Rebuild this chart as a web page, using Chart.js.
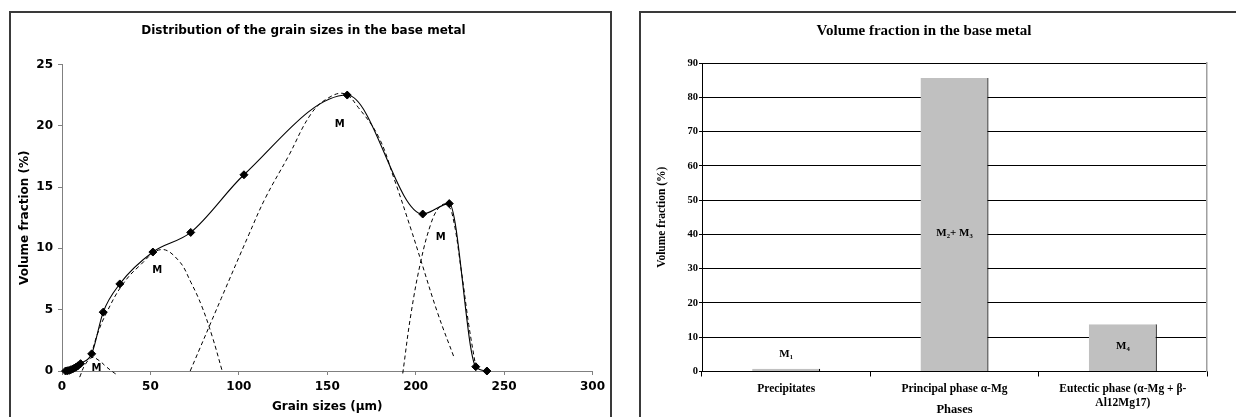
<!DOCTYPE html>
<html><head><meta charset="utf-8">
<script src="https://cdn.jsdelivr.net/npm/chart.js@4.4.1/dist/chart.umd.min.js"></script>
<style>
html,body{margin:0;padding:0;background:#fff;overflow:hidden;width:1236px;height:417px;}
.frame{position:absolute;border:2px solid #3a3a3a;}
#f1{left:9px;top:11px;width:599px;height:406px;}
#f2{left:639px;top:11px;width:644px;height:406px;}
canvas{display:block;}
</style></head><body>
<div class="frame" id="f1"><canvas id="c1" width="599" height="406"></canvas></div>
<div class="frame" id="f2"><canvas id="c2" width="644" height="406"></canvas></div>
<script>
// ---- Left chart data: measured grain size distribution ----
const grainSizes      = [2, 3, 4, 5, 6, 7, 8, 9, 10.5, 16.8, 23.3, 32.7, 51.4, 72.8, 102.9, 161.3, 204, 219, 234, 240.3];
const volumeFractions = [0, 0.02, 0.05, 0.1, 0.16, 0.24, 0.32, 0.42, 0.6, 1.4, 4.8, 7.1, 9.7, 11.3, 16.0, 22.5, 12.8, 13.65, 0.35, 0];
// Fitted components (dashed)
const m1Sizes = [10, 13, 17, 21, 25, 28.5, 31.5];
const m1Fractions = [-0.5, 0.5, 1.1, 0.85, 0.35, -0.05, -0.35];
const m2Sizes = [16.5, 20, 25, 34, 44, 56, 66, 73, 79, 85, 90.6];
const m2Fractions = [1.3, 3.0, 4.7, 7.0, 8.6, 9.9, 9.0, 7.2, 5.3, 2.8, 0];
const m3Sizes = [72.5, 90, 105.6, 115, 128, 141, 151, 160, 167.5, 179, 188, 197.5, 203, 212.5, 222];
const m3Fractions = [0, 5.9, 11.1, 14.1, 17.5, 21.0, 22.3, 22.6, 21.5, 19.1, 15.6, 11.5, 9.0, 4.7, 1.0];
const m4Sizes = [192.7, 197.4, 203, 208.6, 213, 217, 220.5, 226, 230, 234];
const m4Fractions = [-0.2, 4.7, 9.0, 12.0, 13.3, 13.6, 12.9, 8.0, 3.8, 0.35];
const peakLabels = ['M', 'M', 'M', 'M'];
const peakLabelX = [19.5, 53.8, 157.1, 214.2];
const peakLabelY = [0.2, 8.2, 20.1, 10.9];

// ---- Right chart data ----
const phases = ['Precipitates', 'Principal phase \u03b1-Mg', ['Eutectic phase (\u03b1-Mg + \u03b2-', 'Al12Mg17)']];
const phaseFractions = [0.8, 85.6, 13.8];
const barLabels = ['M\u2081', 'M\u2082+ M\u2083', 'M\u2084'];
const barLabelValues = [5, 40.4, 7.5];

const toXY = (xs, ys) => xs.map((x, i) => ({x: x, y: ys[i]}));
const SANS = '"DejaVu Sans", Verdana, sans-serif';
const SERIF = '"Liberation Serif", "Times New Roman", serif';

const peakLabelPlugin = {
  id: 'peakLabels',
  afterDatasetsDraw(chart) {
    const {ctx, scales: {x, y}} = chart;
    ctx.save();
    ctx.font = 'bold 10px ' + SANS;
    ctx.fillStyle = '#000';
    ctx.textAlign = 'center';
    ctx.textBaseline = 'middle';
    peakLabels.forEach((t, i) => ctx.fillText(t, x.getPixelForValue(peakLabelX[i]), y.getPixelForValue(peakLabelY[i])));
    ctx.restore();
  }
};

const dashed = (data) => ({
  data: data, borderColor: '#000', borderWidth: 1, borderDash: [4, 3],
  pointRadius: 0, tension: 0.4, fill: false, clip: false
});

new Chart(document.getElementById('c1'), {
  type: 'line',
  data: {
    datasets: [
      dashed(toXY(m1Sizes, m1Fractions)),
      dashed(toXY(m2Sizes, m2Fractions)),
      dashed(toXY(m3Sizes, m3Fractions)),
      dashed(toXY(m4Sizes, m4Fractions)),
      {
        data: toXY(grainSizes, volumeFractions),
        borderColor: '#000', borderWidth: 1.1, cubicInterpolationMode: 'monotone',
        pointStyle: 'rectRot', pointRadius: 4, pointBackgroundColor: '#000', pointBorderColor: '#000',
        pointBorderWidth: 1, fill: false, clip: false
      }
    ]
  },
  options: {
    responsive: false, animation: false, devicePixelRatio: 1,
    layout: {padding: {left: 0, right: 14, top: 0, bottom: 0}},
    plugins: {
      legend: {display: false}, tooltip: {enabled: false},
      title: {display: true, text: 'Distribution of the grain sizes in the base metal', color: '#000',
        font: {family: SANS, size: 12, weight: 'bold'}, padding: {top: 11, bottom: 26}}
    },
    scales: {
      x: {
        type: 'linear', min: 0, max: 300,
        ticks: {stepSize: 50, color: '#000', padding: 5, font: {family: SANS, size: 12, weight: 'bold'}},
        grid: {drawOnChartArea: false, drawTicks: true, tickLength: 4, color: '#808080'},
        border: {display: true, color: '#808080', width: 1},
        title: {display: true, text: 'Grain sizes (\u00b5m)', color: '#000', font: {family: SANS, size: 12, weight: 'bold'}, padding: {top: 0, bottom: 5}},
        afterFit(s) { s.height = 48; }
      },
      y: {
        min: 0, max: 25,
        ticks: {stepSize: 5, color: '#000', padding: 5, font: {family: SANS, size: 12, weight: 'bold'}},
        grid: {drawOnChartArea: false, drawTicks: true, tickLength: 4, color: '#808080'},
        border: {display: true, color: '#808080', width: 1},
        title: {display: true, text: 'Volume fraction (%)', color: '#000', font: {family: SANS, size: 12, weight: 'bold'}, padding: {top: 7, bottom: 0}},
        afterFit(s) { s.width = 51; }
      }
    }
  },
  plugins: [peakLabelPlugin]
});

const barLabelPlugin = {
  id: 'barLabels',
  afterDatasetsDraw(chart) {
    const {ctx, scales: {x, y}} = chart;
    ctx.save();
    ctx.font = 'bold 11px ' + SERIF;
    ctx.fillStyle = '#000';
    ctx.textAlign = 'center';
    ctx.textBaseline = 'middle';
    barLabels.forEach((t, i) => ctx.fillText(t, x.getPixelForValue(i), y.getPixelForValue(barLabelValues[i])));
    ctx.restore();
  }
};

new Chart(document.getElementById('c2'), {
  type: 'bar',
  data: {
    labels: phases,
    datasets: [{
      data: phaseFractions, backgroundColor: '#c0c0c0', borderColor: '#000',
      borderWidth: {top: 0, right: 1.2, bottom: 0, left: 0}, borderSkipped: false,
      barPercentage: 0.404, categoryPercentage: 1
    }]
  },
  options: {
    responsive: false, animation: false, devicePixelRatio: 1,
    layout: {padding: {left: 0, right: 78, top: 0, bottom: 0}},
    plugins: {
      legend: {display: false}, tooltip: {enabled: false},
      title: {display: true, text: 'Volume fraction in the base metal', color: '#000',
        font: {family: SERIF, size: 15, weight: 'bold'}, padding: {top: 9, bottom: 23}}
    },
    scales: {
      x: {
        offset: true,
        ticks: {color: '#000', padding: 5.5, maxRotation: 0, autoSkip: false, font: {family: SERIF, size: 11.5, weight: 'bold', lineHeight: 1.22}},
        grid: {offset: true, drawOnChartArea: false, drawTicks: true, tickLength: 5, color: '#000'},
        border: {display: true, color: '#000', width: 1},
        title: {display: true, text: 'Phases', color: '#000', font: {family: SERIF, size: 12.5, weight: 'bold'}, padding: {top: 0, bottom: 1.5}},
        afterFit(s) { s.height = 47.5; }
      },
      y: {
        min: 0, max: 90,
        ticks: {stepSize: 10, color: '#000', padding: 1, font: {family: SERIF, size: 10.5, weight: 'bold'}},
        grid: {color: '#000', lineWidth: 1, drawTicks: true, tickLength: 3},
        border: {display: true, color: '#000', width: 1},
        title: {display: true, text: 'Volume fraction (%)', color: '#000', font: {family: SERIF, size: 11.5, weight: 'bold'}, padding: {top: 14, bottom: 0}},
        afterFit(s) { s.width = 61; }
      },
      y2: {
        position: 'right', min: 0, max: 90,
        ticks: {display: false},
        grid: {drawOnChartArea: false, drawTicks: false},
        border: {display: true, color: '#a0a0a0', width: 1.5},
        afterFit(s) { s.width = 0; }
      }
    }
  },
  plugins: [barLabelPlugin]
});
</script>
</body></html>
